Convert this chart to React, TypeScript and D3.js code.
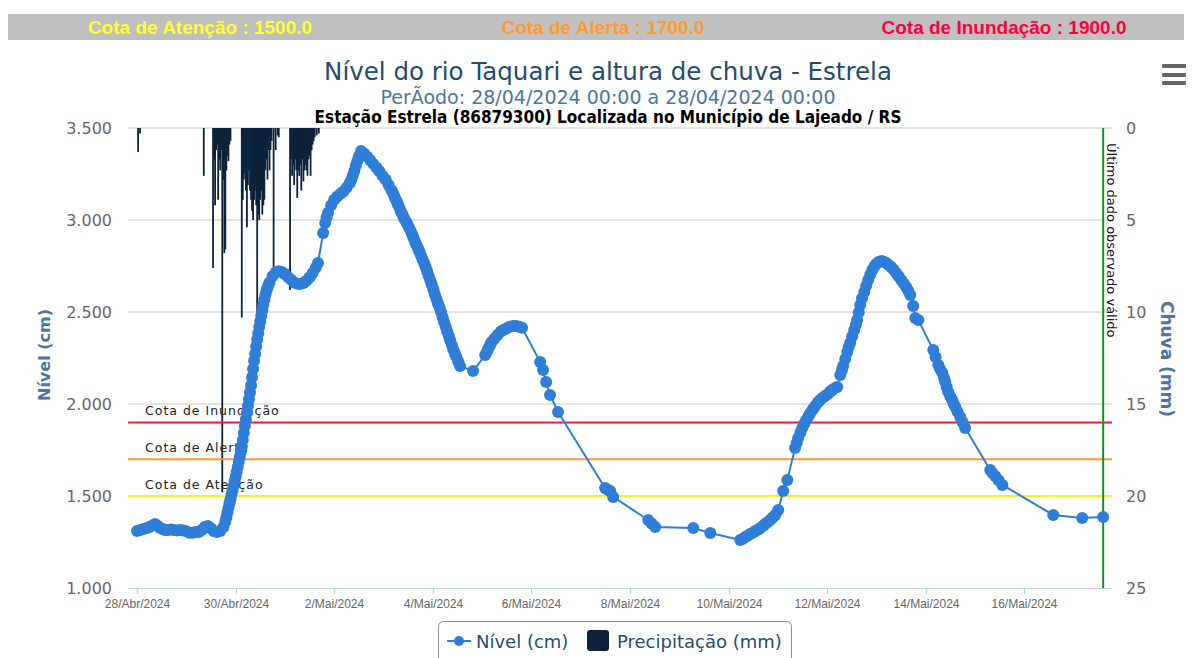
import React, { useEffect, useRef } from "react";
import * as d3 from "d3";

// horas contadas a partir de 28/04/2024 00:00
const START = Date.UTC(2024, 3, 28, 0, 0);
const HOUR = 3600 * 1000;

const cotaNames = ["Cota de Atenção", "Cota de Alerta", "Cota de Inundação"];
const cotaValues = [1500, 1700, 1900];

const tickDates = [
  "2024-04-28", "2024-04-30", "2024-05-02", "2024-05-04", "2024-05-06",
  "2024-05-08", "2024-05-10", "2024-05-12", "2024-05-14", "2024-05-16",
];
const tickLabels = [
  "28/Abr/2024", "30/Abr/2024", "2/Mai/2024", "4/Mai/2024", "6/Mai/2024",
  "8/Mai/2024", "10/Mai/2024", "12/Mai/2024", "14/Mai/2024", "16/Mai/2024",
];
const nivelTicks = [1000, 1500, 2000, 2500, 3000, 3500];
const chuvaTicks = [0, 5, 10, 15, 20, 25];

// [hora, nivel cm]
const nivel: [number, number][] = [
  [0, 1310], [1.5, 1315], [3, 1320], [4.5, 1325], [6, 1331], [7.5, 1340], [8.8, 1348],
  [10, 1338], [11.2, 1326], [12.5, 1320], [13.6, 1315], [15, 1315], [16.5, 1318],
  [18, 1315], [19.5, 1313], [21, 1315], [22.5, 1312], [24, 1308], [25.5, 1300],
  [27, 1300], [28.5, 1304], [30, 1304], [31.5, 1315], [33, 1331], [34.5, 1337],
  [36, 1325], [37.5, 1308], [39, 1304], [40.5, 1310], [42, 1330], [43, 1362],
  [43.5, 1385], [44, 1410], [44.5, 1435], [45, 1460], [45.5, 1483], [46, 1507],
  [46.5, 1530], [47, 1555], [47.5, 1580], [48, 1605], [48.5, 1630], [49, 1657],
  [49.5, 1685], [50, 1712], [50.5, 1740], [51, 1770], [51.5, 1805], [52, 1842],
  [52.5, 1880], [53, 1917], [53.5, 1953], [54, 1990], [54.5, 2026], [55, 2063],
  [55.5, 2100], [56, 2145], [56.5, 2190], [57, 2235], [57.5, 2273], [58, 2312],
  [58.5, 2350], [59, 2384], [59.5, 2418], [60, 2450], [60.5, 2480], [61, 2510],
  [61.5, 2540], [62, 2566], [62.5, 2592], [63, 2615], [63.5, 2632], [64, 2647],
  [64.5, 2660], [66, 2695], [67.5, 2715], [69, 2722], [70.5, 2718],
  [72, 2707], [73.5, 2690], [75, 2675], [76.5, 2660], [78, 2653], [79.5, 2652],
  [81, 2658], [82.5, 2670], [84, 2688], [85.5, 2712], [87, 2740], [88.1, 2766],
  [90.6, 2929], [91.6, 2984], [92.3, 3015], [93, 3040], [94.5, 3080], [96, 3110], [97.5, 3128],
  [99, 3142], [100.5, 3155], [102, 3175], [103.5, 3200], [104.3, 3218], [105, 3240],
  [105.8, 3266], [106.5, 3295], [107.3, 3322], [108, 3345], [109.1, 3375], [110.5, 3362],
  [112, 3345], [113.5, 3326], [115, 3305], [116.5, 3285], [118, 3265], [119.5, 3240],
  [121, 3220], [122.5, 3190], [124, 3160], [124.8, 3142], [125.5, 3122], [126.3, 3104],
  [127, 3085], [127.8, 3065], [128.5, 3045], [129.3, 3028], [130, 3010], [130.8, 2995],
  [131.5, 2980], [132.3, 2962], [133, 2945], [133.8, 2925], [134.5, 2905], [135.3, 2885],
  [136, 2865], [136.8, 2846], [137.5, 2828], [138.3, 2806], [139, 2785], [139.8, 2765],
  [140.5, 2745], [141.3, 2720], [142, 2695], [142.8, 2672], [143.5, 2650], [144.3, 2622],
  [145, 2595], [145.8, 2571], [146.5, 2548], [147.3, 2524], [148, 2500], [148.8, 2472],
  [149.5, 2445], [150.3, 2420], [151, 2395], [151.8, 2370], [152.5, 2345], [153.3, 2320],
  [154, 2295], [154.8, 2275], [155.5, 2255], [156.4, 2230], [157.3, 2207], [163.6, 2179],
  [169.5, 2266], [170.3, 2283], [171, 2300], [171.8, 2318], [172.5, 2335], [174, 2355],
  [175.5, 2375], [177, 2392], [178.5, 2403], [180, 2412], [181.5, 2420], [183, 2424],
  [184.5, 2424], [186, 2420], [187.5, 2414], [196.3, 2228], [197.7, 2185], [199.2, 2120],
  [201.1, 2049], [205, 1957], [227.9, 1543], [229, 1535], [230.4, 1527], [231.8, 1495],
  [248.9, 1370], [250.5, 1350], [252.3, 1332], [270.8, 1326], [279.1, 1299], [293.7, 1261],
  [295, 1268], [296.1, 1277], [297.5, 1285], [298.5, 1293], [300, 1302], [301, 1310],
  [302.5, 1318], [303.4, 1326], [305, 1338], [305.8, 1348], [307, 1358], [308.3, 1370],
  [309.5, 1383], [310.7, 1397], [312.2, 1424], [314.6, 1527], [316.6, 1587], [320.4, 1761],
  [321.2, 1790], [321.9, 1815], [323, 1845], [323.9, 1870], [325, 1895], [325.8, 1913],
  [327, 1935], [327.8, 1951], [329, 1970], [330.2, 1989], [331.5, 2008], [332.6, 2022],
  [334, 2035], [335.2, 2045], [336.5, 2055], [337.5, 2068], [338.5, 2076], [339.7, 2085],
  [340.9, 2092], [342.4, 2158], [343.2, 2185], [343.8, 2207], [344.8, 2245], [345.8, 2283],
  [346.5, 2310], [347.2, 2332], [348.2, 2368], [349.2, 2402], [350, 2430], [350.6, 2457],
  [351.4, 2498], [352.1, 2538], [353, 2575], [354.1, 2609], [355, 2642], [356, 2674],
  [357, 2702], [358, 2728], [359, 2748], [359.9, 2761], [361, 2772], [362.4, 2777],
  [363.5, 2773], [364.8, 2766], [366, 2756], [367.2, 2745], [368.4, 2730], [369.6, 2712],
  [370.8, 2694], [372.1, 2674], [373.3, 2655], [374.5, 2636], [375.5, 2615], [376.5, 2592],
  [377.9, 2533], [378.9, 2467], [380.4, 2456], [387.7, 2293], [388.8, 2255], [390.1, 2212],
  [391, 2190], [392.1, 2169], [393, 2140], [393.5, 2120], [394.2, 2092], [395, 2065],
  [396, 2040], [396.9, 2022], [397.6, 2002], [398.4, 1984], [399.5, 1958], [400.8, 1929],
  [402, 1900], [403.2, 1870], [415.4, 1641], [416.5, 1625], [417.8, 1609], [419.5, 1585],
  [421.3, 1560], [446.1, 1397], [460.2, 1380], [470.4, 1386],
];

// [hora, chuva mm]
const chuva: [number, number][] = [
  [0.5, 1.3], [1.5, 0.3], [32.5, 2.6], [37, 7.6], [37.5, 1.7], [38, 4.2], [38.5, 1.2],
  [39, 0.9], [39.5, 3.9], [40, 1.7], [40.5, 2.3], [41, 1.2], [41.5, 19.8], [42, 2.8],
  [42.5, 6.8], [43, 6.6], [43.5, 2.3], [44, 1.5], [44.5, 1.8], [45, 0.9], [45.5, 0.7],
  [51, 10.3], [51.5, 3.9], [52, 2.8], [52.5, 2.5], [53, 3.4], [53.5, 5.4], [54, 3.1],
  [54.5, 2.3], [55, 3.4], [55.5, 3.9], [56, 4.5], [56.5, 5.0], [57, 3.9], [57.5, 3.4],
  [58, 4.2], [58.5, 10.1], [59, 4.7], [59.5, 5.0], [60, 3.9], [60.5, 3.4], [61, 4.7],
  [61.5, 4.2], [62, 3.9], [62.5, 2.3], [63, 1.7], [63.5, 2.8], [64, 1.2], [64.5, 2.3],
  [65, 1.2], [65.5, 0.7], [66.5, 8.5], [67.5, 1.2], [68.5, 0.4], [69, 0.5],
  [74.5, 8.8], [75, 1.7], [75.5, 2.6], [76, 2.0], [76.5, 3.1], [77, 1.7], [77.5, 2.3],
  [78, 3.8], [78.5, 2.3], [79, 2.6], [79.5, 2.0], [80, 3.4], [80.5, 1.7], [81, 2.9],
  [81.5, 2.3], [82, 2.0], [82.5, 2.3], [83, 2.6], [83.5, 1.7], [84, 1.5], [84.5, 2.6],
  [85, 1.2], [85.5, 0.9], [86, 0.7], [86.5, 0.5], [87.5, 0.4], [88.5, 0.3],
];

const ultimoDado = 470.4;

const W = 1192;
const H = 658;
const plot = { left: 128, right: 1112, top: 128, bottom: 588 };
const cotaColors = ["#f2f22c", "#ff9933", "#ff1744"];
const bannerColors = ["#ffff33", "#ff9933", "#ff0040"];

const toDate = (h: number) => new Date(START + h * HOUR);

function App() {
  const ref = useRef<SVGSVGElement>(null);

  useEffect(() => {
    const svg = d3.select(ref.current);
    svg.selectAll("*").remove();

    const x = d3.scaleUtc()
      .domain([toDate(-4.4), toDate(474.7)])
      .range([plot.left, plot.right]);
    const y = d3.scaleLinear().domain([1000, 3500]).range([plot.bottom, plot.top]);
    const yR = d3.scaleLinear().domain([0, 25]).range([plot.top, plot.bottom]);
    const fmt = d3.formatLocale({ decimal: ",", thousands: ".", grouping: [3], currency: ["R$", ""] }).format(",.0f");

    // faixa de cotas
    svg.append("rect").attr("x", 8).attr("y", 14).attr("width", 1176).attr("height", 26).attr("fill", "#c0c0c0");
    const bannerX = [200, 603, 1004];
    cotaNames.forEach((n, i) => {
      svg.append("text")
        .attr("x", bannerX[i]).attr("y", 34)
        .attr("text-anchor", "middle")
        .attr("font-family", "Liberation Sans, Arial, sans-serif")
        .attr("font-weight", "bold").attr("font-size", 19)
        .attr("fill", bannerColors[i])
        .text(`${n} : ${cotaValues[i].toFixed(1)}`);
    });

    // titulos
    svg.append("text").attr("x", 608).attr("y", 80).attr("text-anchor", "middle")
      .attr("font-family", "DejaVu Sans, sans-serif").attr("font-size", 24.5)
      .attr("fill", "#274b6d").text("Nível do rio Taquari e altura de chuva - Estrela");
    svg.append("text").attr("x", 608).attr("y", 104).attr("text-anchor", "middle")
      .attr("font-family", "DejaVu Sans, sans-serif").attr("font-size", 19)
      .attr("fill", "#4d759e").text("PerÃodo: 28/04/2024 00:00 a 28/04/2024 00:00");
    svg.append("text").attr("x", 608).attr("y", 123).attr("text-anchor", "middle")
      .attr("font-family", "DejaVu Sans Condensed, DejaVu Sans, sans-serif").attr("font-weight", "bold")
      .attr("font-size", 17).attr("fill", "#000")
      .text("Estação Estrela (86879300) Localizada no Município de Lajeado / RS");

    // menu
    [64, 73, 81].forEach((yy) => {
      svg.append("rect").attr("x", 1162).attr("y", yy).attr("width", 24).attr("height", 4).attr("rx", 1).attr("fill", "#666");
    });

    // grade
    const grid = svg.append("g");
    nivelTicks.slice(1).forEach((t) => {
      grid.append("line").attr("x1", plot.left).attr("x2", plot.right)
        .attr("y1", y(t)).attr("y2", y(t)).attr("stroke", "#c8c8c8").attr("stroke-width", 1);
    });
    grid.append("line").attr("x1", plot.left).attr("x2", plot.right)
      .attr("y1", plot.bottom + 0.5).attr("y2", plot.bottom + 0.5).attr("stroke", "#c0d0e0");
    tickDates.forEach((d, i) => {
      const xx = Math.round(x(new Date(d + "T00:00:00Z"))) + 0.5;
      grid.append("line").attr("x1", xx).attr("x2", xx).attr("y1", plot.bottom).attr("y2", plot.bottom + 6)
        .attr("stroke", "#c0d0e0");
      grid.append("text").attr("x", xx).attr("y", 608).attr("text-anchor", "middle")
        .attr("font-family", "Liberation Sans, Arial, sans-serif").attr("font-size", 12)
        .attr("fill", "#666").text(tickLabels[i]);
    });

    // eixos y
    nivelTicks.forEach((t) => {
      svg.append("text").attr("x", 112).attr("y", y(t) + 6).attr("text-anchor", "end")
        .attr("font-family", "DejaVu Sans, sans-serif").attr("font-size", 16)
        .attr("fill", "#666").text(fmt(t));
    });
    chuvaTicks.forEach((t) => {
      svg.append("text").attr("x", 1126).attr("y", yR(t) + 6).attr("text-anchor", "start")
        .attr("font-family", "DejaVu Sans, sans-serif").attr("font-size", 16)
        .attr("fill", "#666").text(t);
    });
    svg.append("text").attr("transform", `translate(50,355) rotate(-90)`)
      .attr("text-anchor", "middle").attr("font-family", "DejaVu Sans, sans-serif")
      .attr("font-weight", "bold").attr("font-size", 16).attr("fill", "#4d759e").text("Nível (cm)");
    svg.append("text").attr("transform", `translate(1161,359) rotate(90)`)
      .attr("text-anchor", "middle").attr("font-family", "DejaVu Sans, sans-serif")
      .attr("font-weight", "bold").attr("font-size", 17).attr("fill", "#4d759e").text("Chuva (mm)");

    // chuva
    svg.append("g").selectAll("rect").data(chuva).enter().append("rect")
      .attr("x", (d) => x(toDate(d[0])) - 0.9)
      .attr("y", plot.top)
      .attr("width", 1.8)
      .attr("height", (d) => yR(d[1]) - plot.top)
      .attr("fill", "#0d233a");

    // cotas
    cotaNames.forEach((n, i) => {
      const yy = y(cotaValues[i]);
      svg.append("line").attr("x1", plot.left).attr("x2", plot.right).attr("y1", yy).attr("y2", yy)
        .attr("stroke", cotaColors[i]).attr("stroke-width", 2);
      svg.append("text").attr("x", 145).attr("y", yy - 7)
        .attr("font-family", "DejaVu Sans, sans-serif").attr("font-size", 12.5)
        .attr("letter-spacing", 1).attr("fill", "#222").text(n);
    });

    // ultimo dado
    const xu = x(toDate(ultimoDado));
    svg.append("line").attr("x1", xu).attr("x2", xu).attr("y1", plot.top).attr("y2", plot.bottom)
      .attr("stroke", "#1e8c1e").attr("stroke-width", 2);
    svg.append("text").attr("transform", `translate(${xu + 4},143) rotate(90)`)
      .attr("font-family", "DejaVu Sans, sans-serif").attr("font-size", 13).attr("fill", "#111")
      .text("Último dado observado válido");

    // nivel
    const line = d3.line<[number, number]>().x((d) => x(toDate(d[0]))).y((d) => y(d[1]));
    svg.append("path").datum(nivel).attr("d", line).attr("fill", "none")
      .attr("stroke", "#2f7ed8").attr("stroke-width", 2);
    svg.append("g").selectAll("circle").data(nivel).enter().append("circle")
      .attr("cx", (d) => x(toDate(d[0]))).attr("cy", (d) => y(d[1])).attr("r", 6)
      .attr("fill", "#2f7ed8");

    // legenda
    const lg = svg.append("g");
    lg.append("rect").attr("x", 438.5).attr("y", 621.5).attr("width", 353).attr("height", 50).attr("rx", 5)
      .attr("fill", "#fff").attr("stroke", "#909090");
    lg.append("line").attr("x1", 447).attr("x2", 471).attr("y1", 641).attr("y2", 641)
      .attr("stroke", "#2f7ed8").attr("stroke-width", 2);
    lg.append("circle").attr("cx", 459).attr("cy", 641).attr("r", 5).attr("fill", "#2f7ed8");
    lg.append("text").attr("x", 476).attr("y", 648).attr("font-family", "DejaVu Sans, sans-serif")
      .attr("font-size", 18).attr("fill", "#274b6d").text("Nível (cm)");
    lg.append("rect").attr("x", 587).attr("y", 630).attr("width", 22).attr("height", 21).attr("rx", 3)
      .attr("fill", "#0d233a");
    lg.append("text").attr("x", 617).attr("y", 648).attr("font-family", "DejaVu Sans, sans-serif")
      .attr("font-size", 18).attr("fill", "#274b6d").text("Precipitação (mm)");
  }, []);

  return (
    <svg ref={ref} width={W} height={H} style={{ position: "absolute", left: 0, top: 0, background: "#fff" }} />
  );
}

export default App;
